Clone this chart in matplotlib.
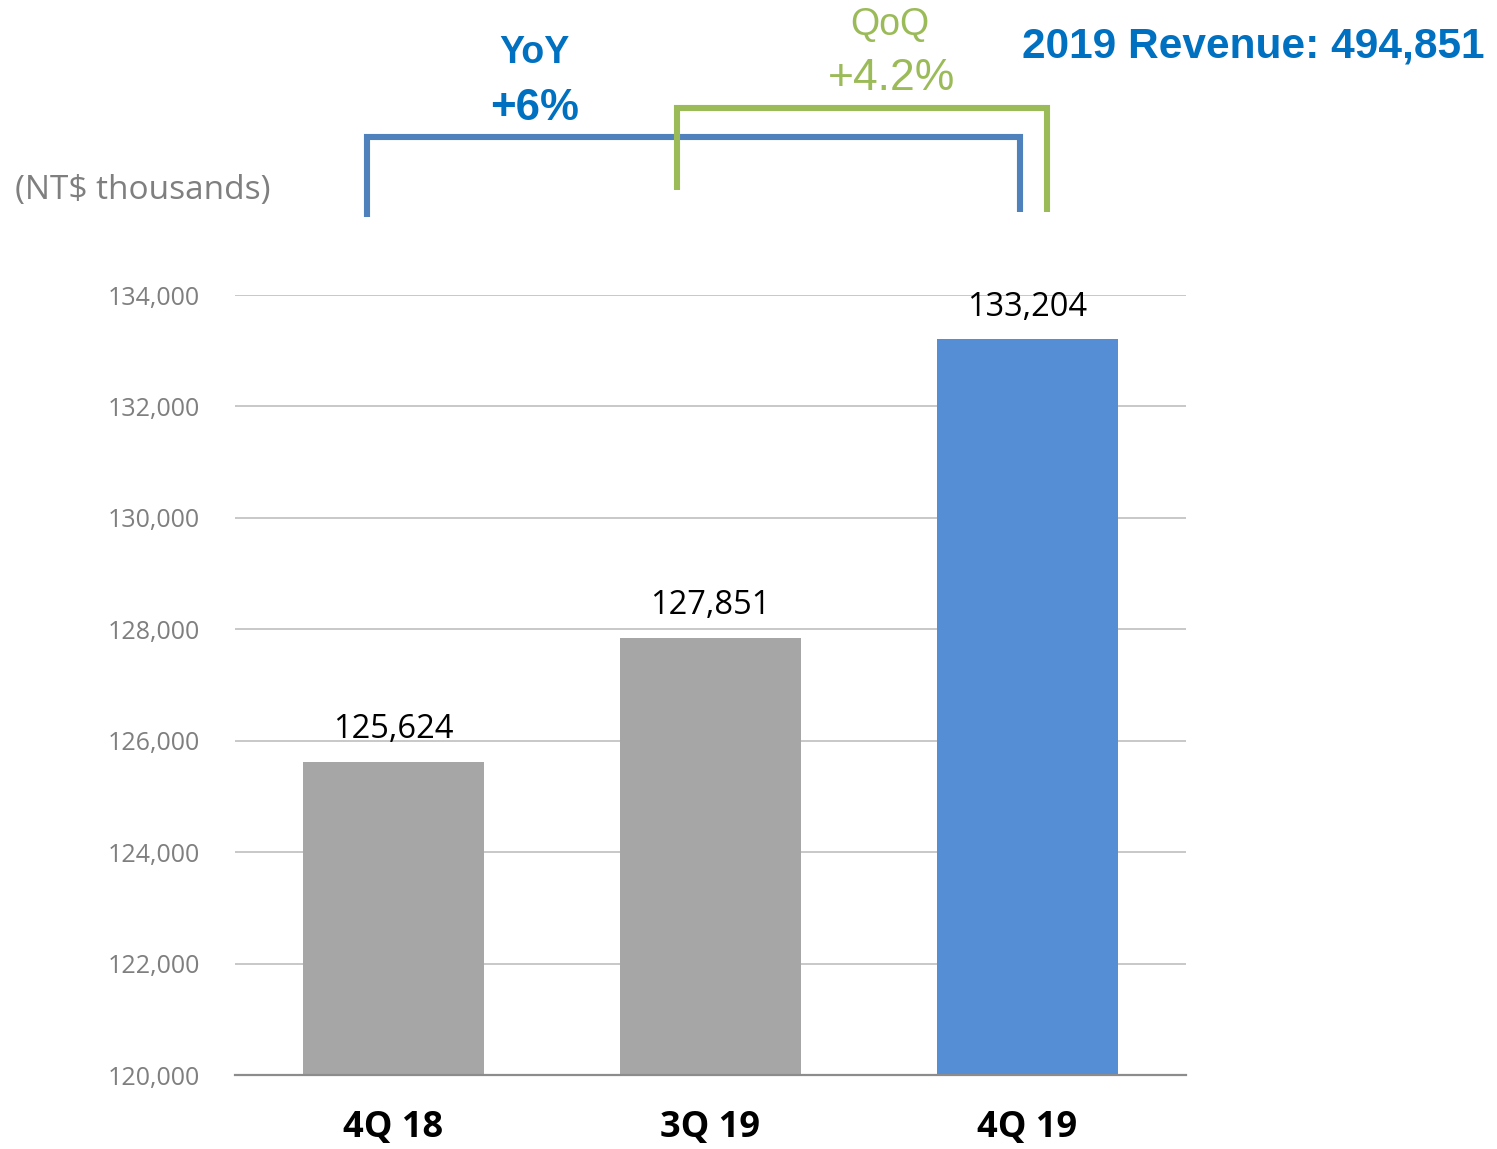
import matplotlib
matplotlib.use('Agg')
import matplotlib.pyplot as plt
from matplotlib.lines import Line2D
import numpy as np

# data
quarters = ['4Q 18', '3Q 19', '4Q 19']
revenue = [125624, 127851, 133204]
bar_colors = ['#A6A6A6', '#A6A6A6', '#558ED5']
yticks = np.arange(120000, 134001, 2000)
yoy_text = '+6%'
qoq_text = '+4.2%'
total_text = '2019 Revenue: 494,851'

W, H = 1497, 1149
fig = plt.figure(figsize=(W / 100, H / 100), dpi=100)
ax = fig.add_axes([235 / W, 1 - 1075 / H, (1186 - 235) / W, (1075 - 295) / H])

bars = ax.bar(range(len(quarters)), revenue, width=0.574, color=bar_colors, zorder=3)
labels = ax.bar_label(bars, labels=[f'{v:,}' for v in revenue], padding=11,
                      fontsize=23.5, family='Open Sans', color='black')
for t in labels:
    t.set_clip_on(False)

ax.set_xlim(-0.5, 2.5)
ax.set_ylim(120000, 134000)
ax.set_yticks(yticks)
ax.set_yticklabels([f'{v:,}' for v in yticks], family='Open Sans', fontsize=18, color='#7F7F7F')
ax.set_xticks(range(len(quarters)))
ax.set_xticklabels(quarters, family='Open Sans', fontsize=26, fontweight='bold', color='black')
ax.tick_params(axis='both', length=0)
ax.tick_params(axis='y', pad=25)
ax.tick_params(axis='x', pad=25)

ax.set_axisbelow(True)
ax.grid(axis='y', color='#BFBFBF', linewidth=1.2)
for s in ['top', 'right', 'left']:
    ax.spines[s].set_visible(False)
ax.spines['bottom'].set_color('#8C8C8C')
ax.spines['bottom'].set_linewidth(1.6)
ax.spines['bottom'].set_zorder(4)


# helper: pixel position -> figure fraction
def fx(x):
    return x / W


def fy(y):
    return 1 - y / H


def bracket(xs, ys, color, z):
    fig.add_artist(Line2D([fx(x) for x in xs], [fy(y) for y in ys], color=color,
                          linewidth=4.4, solid_joinstyle='miter', solid_capstyle='butt', zorder=z))


bracket([367, 367, 1020, 1020], [217, 137, 137, 212], '#4F81BD', 5)
bracket([677, 677, 1047, 1047], [190, 108, 108, 212], '#9BBB59', 6)

blue = '#0070C0'
green = '#9BBB59'
fig.text(fx(534), fy(53), 'YoY', ha='center', va='center', fontsize=27, fontweight='bold',
         family='Liberation Sans', color=blue)
fig.text(fx(535), fy(108), yoy_text, ha='center', va='center', fontsize=31.5, fontweight='bold',
         family='Liberation Sans', color=blue)
fig.text(fx(890), fy(25), 'QoQ', ha='center', va='center', fontsize=27,
         family='Liberation Sans', color=green)
fig.text(fx(892), fy(79), qoq_text, ha='center', va='center', fontsize=32,
         family='Liberation Sans', color=green)
fig.text(fx(1022), fy(46), total_text, ha='left', va='center', fontsize=30.5, fontweight='bold',
         family='Liberation Sans', color=blue)
fig.text(fx(143), fy(190), '(NT$ thousands)', ha='center', va='center', fontsize=24,
         family='Open Sans', color='#7F7F7F')

fig.savefig('out.png', dpi=100)
